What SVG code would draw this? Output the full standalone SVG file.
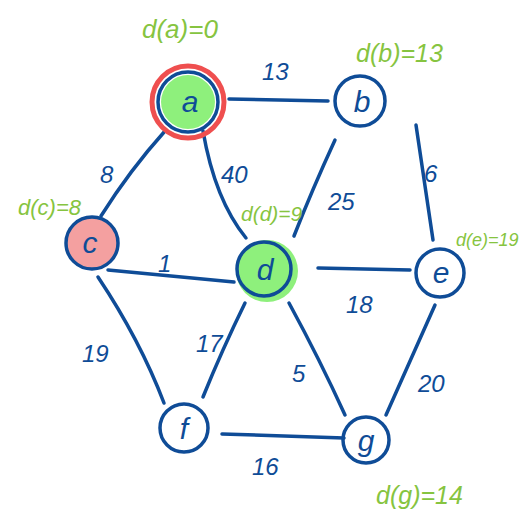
<svg xmlns="http://www.w3.org/2000/svg" width="530" height="526" viewBox="0 0 530 526">
<style>
.edge{stroke:#0f4c97;stroke-width:3.5;stroke-linecap:round;fill:none}
.ring{stroke:#0f4c97;stroke-width:3.5;fill:none}
.lbl{font-family:"Liberation Sans",Arial,sans-serif;font-size:24px;fill:#0f4c97;font-style:italic}
.nl{font-family:"Liberation Sans",Arial,sans-serif;font-size:30px;fill:#0f4c97;text-anchor:middle;font-style:italic}
.dist{font-family:"Liberation Sans",Arial,sans-serif;fill:#86c440;font-style:italic}
</style>
<rect width="530" height="526" fill="#ffffff"/>
<g id="connectors">
<line class="edge" x1="229" y1="99" x2="328" y2="101"/>
<line class="edge" x1="416" y1="125" x2="433" y2="240"/>
<path class="edge" d="M165,131 Q130,170 101,216"/>
<path class="edge" d="M203,131 Q215,200 246,238"/>
<path class="edge" d="M335,140 Q312,190 294,236"/>
<line class="edge" x1="108" y1="270" x2="234" y2="282"/>
<line class="edge" x1="318" y1="268" x2="410" y2="270"/>
<path class="edge" d="M98,277 Q140,340 164,403"/>
<path class="edge" d="M245,303 Q222,350 203,397"/>
<path class="edge" d="M289,303 Q320,360 345,415"/>
<line class="edge" x1="435" y1="305" x2="386" y2="415"/>
<line class="edge" x1="222" y1="434" x2="344" y2="438"/>
<text class="lbl" x="262" y="80">13</text>
<text class="lbl" x="424" y="182">6</text>
<text class="lbl" x="100" y="183">8</text>
<text class="lbl" x="221" y="183">40</text>
<text class="lbl" x="328" y="210">25</text>
<text class="lbl" x="158" y="272">1</text>
<text class="lbl" x="346" y="313">18</text>
<text class="lbl" x="82" y="362">19</text>
<text class="lbl" x="196" y="352">17</text>
<text class="lbl" x="292" y="382">5</text>
<text class="lbl" x="418" y="392">20</text>
<text class="lbl" x="252" y="475">16</text>
</g>
<g id="node-a">
<circle cx="188" cy="102" r="36" fill="none" stroke="#ef4f4f" stroke-width="5"/>
<circle cx="188" cy="102" r="27" fill="#8ef07c"/>
<circle class="ring" cx="188" cy="102" r="30"/>
<text class="nl" x="190" y="112">a</text>
<text class="dist" x="142" y="38" font-size="26">d(a)=0</text>
</g>
<g id="node-b">
<circle class="ring" cx="360" cy="101" r="25"/>
<text class="nl" x="362" y="112">b</text>
<text class="dist" x="356" y="62" font-size="25">d(b)=13</text>
</g>
<g id="node-c">
<circle cx="92" cy="243" r="26" fill="#f4a0a0" stroke="#0f4c97" stroke-width="3.5"/>
<text class="nl" x="90" y="253">c</text>
<text class="dist" x="18" y="215" font-size="22">d(c)=8</text>
</g>
<g id="node-d">
<circle cx="267" cy="271" r="31" fill="#8ef07c"/>
<circle class="ring" cx="264" cy="269" r="27"/>
<text class="nl" x="265" y="280">d</text>
<text class="dist" x="241" y="221" font-size="21">d(d)=9</text>
</g>
<g id="node-e">
<circle class="ring" cx="440" cy="273" r="24"/>
<text class="nl" x="441" y="283">e</text>
<text class="dist" x="456" y="246" font-size="18">d(e)=19</text>
</g>
<g id="node-f">
<circle class="ring" cx="184" cy="428" r="24"/>
<text class="nl" x="184" y="439">f</text>
</g>
<g id="node-g">
<circle class="ring" cx="366" cy="440" r="23"/>
<text class="nl" x="366" y="451">g</text>
<text class="dist" x="376" y="504" font-size="25">d(g)=14</text>
</g>
</svg>
